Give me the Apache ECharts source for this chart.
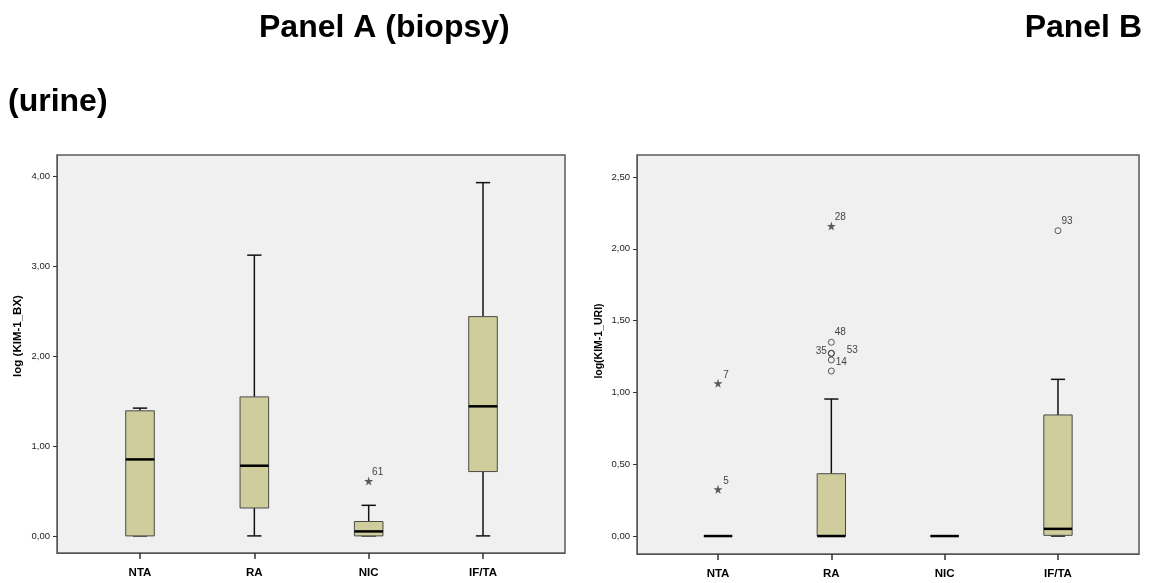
<!DOCTYPE html>
<html>
<head>
<meta charset="utf-8">
<script src="https://cdn.jsdelivr.net/npm/echarts@6/dist/echarts.min.js"></script>
<style>html,body{margin:0;padding:0;background:#fff;}#c{width:1151px;height:583px;}</style>
</head>
<body>
<div id="c"></div>
<script>
// ---- data ----
const categories = ['NTA', 'RA', 'NIC', 'IF/TA'];
// [min, Q1, median, Q3, max] per category
const biopsyBoxes = [
  [0, 0, 0.85, 1.39, 1.42],
  [0, 0.31, 0.78, 1.545, 3.12],
  [0, 0, 0.05, 0.16, 0.34],
  [0, 0.715, 1.44, 2.437, 3.926]
];
const biopsyOutlierCats = [2];
const biopsyOutlierValues = [0.61];
const biopsyOutlierIds = ['61'];
const biopsyOutlierKinds = ['extreme'];

const urineBoxes = [
  [0, 0, 0, 0, 0],
  [0, 0, 0, 0.434, 0.954],
  [0, 0, 0, 0, 0],
  [0, 0.005, 0.05, 0.843, 1.091]
];
const urineOutlierCats = [0, 0, 1, 1, 1, 1, 1, 1, 3];
const urineOutlierValues = [1.063, 0.325, 2.159, 1.349, 1.272, 1.272, 1.226, 1.149, 2.126];
const urineOutlierIds = ['7', '5', '28', '48', '35', '53', '14', '', '93'];
const urineOutlierKinds = ['extreme', 'extreme', 'extreme', 'mild', 'mild', 'mild', 'mild', 'mild', 'mild'];

const biopsyTicks = [0, 1, 2, 3, 4];
const urineTicks = [0, 0.5, 1, 1.5, 2, 2.5];

// ---- styling / layout ----
const FONT = 'Liberation Sans, Arial, Helvetica, sans-serif';
const BOX_FILL = '#cecd9b';
const BOX_W = 0.25;
const labelOffsets = {
  '61': [9, -9], '28': [9, -9], '7': [8, -8], '5': [8, -8], '93': [9, -9],
  '48': [9, -10], '35': [-10, -2], '53': [21, -3], '14': [10, 2]
};
const STAR = 'path://M50,0 L61,35 L98,35 L68,57 L79,91 L50,70 L21,91 L32,57 L2,35 L39,35 Z';

function boxData(boxes) {
  return boxes.map((b, i) => [i].concat(b));
}

function renderBox(params, api) {
  const x = api.value(0);
  const lo = api.coord([x, api.value(1)]);
  const q1 = api.coord([x, api.value(2)]);
  const med = api.coord([x, api.value(3)]);
  const q3 = api.coord([x, api.value(4)]);
  const hi = api.coord([x, api.value(5)]);
  const w = api.size([BOX_W, 0])[0];
  const cx = lo[0];
  const ws = { stroke: '#111', lineWidth: 1.5 };
  return {
    type: 'group',
    children: [
      { type: 'line', shape: { x1: cx, y1: lo[1], x2: cx, y2: q1[1] }, style: ws },
      { type: 'line', shape: { x1: cx, y1: q3[1], x2: cx, y2: hi[1] }, style: ws },
      { type: 'line', shape: { x1: cx - w / 4, y1: lo[1], x2: cx + w / 4, y2: lo[1] }, style: ws },
      { type: 'line', shape: { x1: cx - w / 4, y1: hi[1], x2: cx + w / 4, y2: hi[1] }, style: ws },
      { type: 'rect', shape: { x: cx - w / 2, y: q3[1], width: w, height: q1[1] - q3[1] },
        style: { fill: BOX_FILL, stroke: '#4a4a4a', lineWidth: 1 } },
      { type: 'line', shape: { x1: cx - w / 2, y1: med[1], x2: cx + w / 2, y2: med[1] },
        style: { stroke: '#000', lineWidth: 2.5 } }
    ]
  };
}

function outlierData(cats, vals, ids, kinds, kind) {
  const out = [];
  for (let i = 0; i < cats.length; i++) {
    if (kinds[i] !== kind) continue;
    const off = labelOffsets[ids[i]] || [0, 0];
    out.push({ value: [cats[i], vals[i]], name: ids[i], label: { offset: off } });
  }
  return out;
}

function outlierSeries(idx, cats, vals, ids, kinds) {
  const lbl = { show: true, position: 'inside', formatter: p => p.name,
    fontFamily: FONT, fontSize: 10, color: '#111', textBorderWidth: 0 };
  return [
    { type: 'scatter', xAxisIndex: idx, yAxisIndex: idx, symbol: STAR, symbolSize: 9,
      itemStyle: { color: '#333' }, label: lbl, z: 5, silent: true,
      data: outlierData(cats, vals, ids, kinds, 'extreme') },
    { type: 'scatter', xAxisIndex: idx, yAxisIndex: idx, symbol: 'circle', symbolSize: 6,
      itemStyle: { color: 'rgba(0,0,0,0)', borderColor: '#333', borderWidth: 1 }, label: lbl, z: 5, silent: true,
      data: outlierData(cats, vals, ids, kinds, 'mild') }
  ];
}

function xAxis(idx, min, max) {
  return {
    type: 'value', gridIndex: idx, min: min, max: max,
    axisLine: { show: true, onZero: false, lineStyle: { color: '#555', width: 1 } },
    axisTick: { show: true, customValues: [0, 1, 2, 3], length: 6, lineStyle: { color: '#333', width: 1.5 } },
    axisLabel: { customValues: [0, 1, 2, 3], formatter: v => categories[Math.round(v)],
      fontFamily: FONT, fontSize: 11.5, fontWeight: 'bold', color: '#000', margin: 14 },
    splitLine: { show: false }
  };
}
function yAxis(idx, min, max, ticks) {
  return {
    type: 'value', gridIndex: idx, min: min, max: max,
    axisLine: { show: true, onZero: false, lineStyle: { color: '#555', width: 1 } },
    axisTick: { show: true, customValues: ticks, length: 4, lineStyle: { color: '#333', width: 1 } },
    axisLabel: { customValues: ticks, formatter: v => v.toFixed(2).replace('.', ','),
      fontFamily: FONT, fontSize: 9.5, color: '#222', margin: 7 },
    splitLine: { show: false }
  };
}

const titleStyle = { fontFamily: FONT, fontSize: 32, fontWeight: 'bold', color: '#000' };

const chart = echarts.init(document.getElementById('c'), null, { renderer: 'canvas' });
chart.setOption({
  animation: false,
  backgroundColor: '#fff',
  title: [
    { text: 'Panel A (biopsy)', left: 259, top: 12, padding: 0, textStyle: titleStyle },
    { text: 'Panel B', right: 9, top: 12, padding: 0, textStyle: titleStyle },
    { text: '(urine)', left: 8, top: 86, padding: 0, textStyle: titleStyle }
  ],
  grid: [
    { left: 57, top: 155, width: 508, height: 398, show: true, backgroundColor: '#f0f0f0',
      borderColor: '#5a5a5a', borderWidth: 1.5 },
    { left: 637, top: 155, width: 502, height: 399, show: true, backgroundColor: '#f0f0f0',
      borderColor: '#5a5a5a', borderWidth: 1.5 }
  ],
  xAxis: [xAxis(0, -0.726, 3.717), xAxis(1, -0.715, 3.715)],
  yAxis: [yAxis(0, -0.19, 4.233, biopsyTicks), yAxis(1, -0.125, 2.653, urineTicks)],
  graphic: [
    { type: 'text', x: 18, y: 336, rotation: Math.PI / 2,
      style: { text: 'log (KIM-1_BX)', fontFamily: FONT, fontSize: 11.5, fontWeight: 'bold', fill: '#000',
        align: 'center', verticalAlign: 'middle' } },
    { type: 'text', x: 599, y: 341, rotation: Math.PI / 2,
      style: { text: 'log(KIM-1_URI)', fontFamily: FONT, fontSize: 10.5, fontWeight: 'bold', fill: '#000',
        align: 'center', verticalAlign: 'middle' } }
  ],
  series: [
    { type: 'custom', xAxisIndex: 0, yAxisIndex: 0, renderItem: renderBox, silent: true,
      encode: { x: 0, y: [1, 2, 3, 4, 5] }, data: boxData(biopsyBoxes), z: 3 },
    { type: 'custom', xAxisIndex: 1, yAxisIndex: 1, renderItem: renderBox, silent: true,
      encode: { x: 0, y: [1, 2, 3, 4, 5] }, data: boxData(urineBoxes), z: 3 }
  ].concat(
    outlierSeries(0, biopsyOutlierCats, biopsyOutlierValues, biopsyOutlierIds, biopsyOutlierKinds),
    outlierSeries(1, urineOutlierCats, urineOutlierValues, urineOutlierIds, urineOutlierKinds)
  )
});
</script>
</body>
</html>
